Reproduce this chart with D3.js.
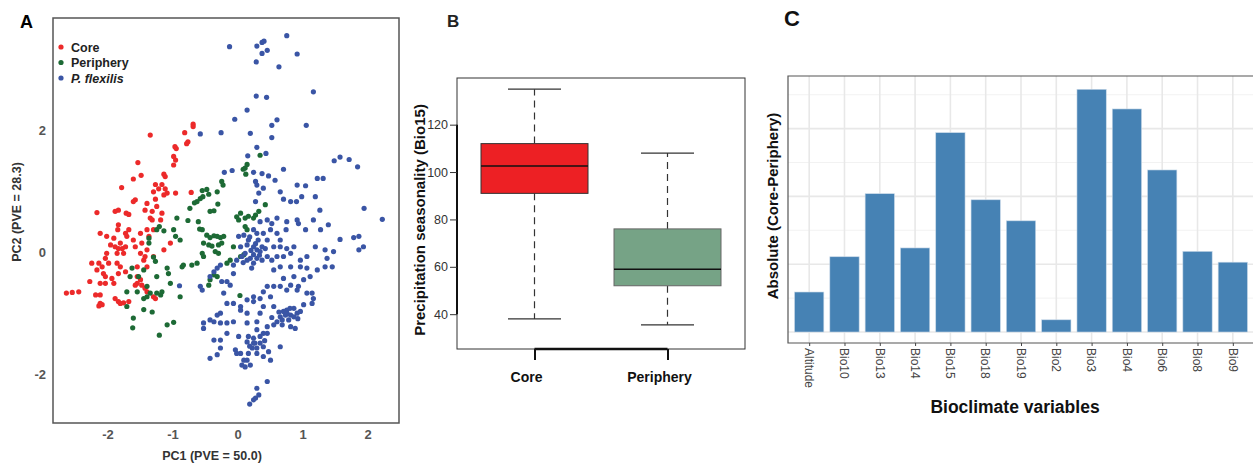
<!DOCTYPE html>
<html>
<head>
<meta charset="utf-8">
<title>Core vs Periphery</title>
<script src="https://d3js.org/d3.v7.min.js" charset="utf-8"></script>
<style>
body { margin: 0; background: #fff; font-family: "Liberation Sans", Arial, sans-serif; }
svg text { font-family: "Liberation Sans", Arial, sans-serif; }
</style>
</head>
<body>
<script>
// ---- panel A: PCA scores (PC1, PC2) ----
var corePoints = [
[-0.69,2.09],[-0.69,2.05],[-0.82,1.95],[-1.35,1.91],[-0.77,1.80],[-0.79,1.77],[-0.97,1.72],[-0.95,1.69],
[-0.99,1.56],[-0.96,1.50],[-0.99,1.42],[-1.54,1.46],[-1.14,1.27],[-1.12,1.23],[-1.49,1.25],[-1.61,1.19],
[-1.79,1.05],[-1.27,1.10],[-1.17,1.10],[-1.22,1.03],[-1.12,1.03],[-1.30,0.98],[-1.27,0.86],[-1.14,0.93],
[-1.09,0.96],[-0.72,0.97],[-0.96,0.96],[-1.58,0.85],[-1.61,0.82],[-1.84,0.68],[-1.89,0.66],[-1.72,0.63],
[-1.68,0.61],[-2.17,0.64],[-1.40,0.79],[-1.43,0.68],[-1.32,0.66],[-1.35,0.55],[-1.25,0.74],[-1.17,0.63],
[-1.19,0.52],[-2.12,0.30],[-2.02,0.25],[-1.91,0.22],[-1.84,0.44],[-1.85,0.36],[-1.73,0.30],[-1.68,0.36],
[-1.71,0.25],[-1.81,0.14],[-1.84,0.05],[-1.86,-0.03],[-1.89,0.08],[-1.73,0.08],[-1.78,0.05],[-1.76,-0.03],
[-1.96,0.11],[-2.02,-0.03],[-2.04,-0.11],[-1.99,-0.19],[-2.25,-0.19],[-2.14,-0.19],[-2.17,-0.30],[-2.09,-0.25],
[-2.07,-0.36],[-2.04,-0.41],[-2.28,-0.49],[-2.12,-0.52],[-2.04,-0.52],[-1.94,-0.44],[-1.91,-0.52],[-2.19,-0.71],
[-2.12,-0.71],[-2.64,-0.68],[-2.55,-0.67],[-2.45,-0.66],[-2.12,-0.85],[-2.09,-0.87],[-2.14,-0.89],[-1.89,-0.77],
[-1.84,-0.82],[-1.81,-0.85],[-1.76,-0.84],[-1.68,-0.82],[-1.58,-0.55],[-1.55,-0.52],[-1.48,-0.55],[-1.43,-0.60],
[-1.40,-0.66],[-1.27,-0.77],[-1.30,-0.74],[-1.61,0.19],[-1.58,0.08],[-1.50,-0.03],[-1.45,-0.14],[-1.40,-0.25],
[-1.55,-0.25],[-1.50,0.30],[-1.48,0.14],[-1.40,0.36],[-1.37,0.25],[-1.30,0.36],[-1.32,0.52],[-1.14,0.03],
[-1.04,0.14],[-1.86,-0.19],[-1.81,-0.25],[-1.84,-0.36],[-1.73,-0.33],[-1.40,0.03],[-1.43,-0.08],[-1.55,-0.41],
[-1.50,-0.46],[-1.30,-0.08]
];
var peripheryPoints = [
[0.34,1.58],[0.14,1.43],[0.11,1.37],[0.08,1.35],[0.12,1.27],[-0.25,1.15],[-0.23,1.09],[-0.55,1.00],
[-0.48,1.02],[-0.54,0.90],[-0.58,0.87],[-0.45,0.94],[-0.32,0.98],[-0.67,0.80],[-0.63,0.82],[-0.74,0.71],
[-0.43,0.66],[-0.37,0.67],[-0.31,0.78],[-0.94,0.55],[-0.77,0.51],[-0.61,0.49],[-0.59,0.37],[-0.55,0.36],
[-1.25,0.36],[-1.21,0.41],[-1.14,0.34],[-1.37,0.22],[-1.37,0.14],[-0.99,0.36],[-0.96,0.25],[-0.89,0.19],
[-0.48,0.27],[-0.43,0.23],[-0.37,0.26],[-0.32,0.25],[-0.27,0.23],[-0.22,0.25],[-0.53,0.14],[-0.45,0.11],
[-0.40,0.09],[-0.30,0.11],[-0.25,0.14],[-0.55,-0.03],[-0.53,-0.08],[-0.35,0.00],[-0.30,-0.03],[-1.30,-0.09],
[-1.27,-0.16],[-0.86,-0.25],[-0.84,-0.22],[-0.71,-0.22],[-0.63,-0.19],[-1.09,-0.27],[-1.07,-0.36],[-1.04,-0.52],
[-1.25,-0.41],[-1.45,-0.30],[-1.53,-0.41],[-1.63,-0.27],[-1.66,-0.41],[-1.40,-0.57],[-1.25,-0.68],[-1.19,-0.71],
[-1.17,-0.66],[-0.89,-0.74],[-1.71,-0.66],[-1.55,-0.66],[-1.45,-0.77],[-1.40,-0.74],[-1.35,-0.68],[-1.71,-0.90],
[-1.45,-0.95],[-1.32,-0.99],[-1.61,-1.09],[-1.62,-1.25],[-1.09,-1.20],[-0.99,-1.16],[-1.21,-1.37],[0.01,0.52],
[0.04,0.63],[0.11,0.55],[0.16,0.58],[0.24,0.55],[0.27,0.60],[0.42,0.77],[0.32,0.66],[-0.07,0.08],
[0.04,-0.08],[0.09,-0.05],[-0.12,-0.14],[-0.17,-0.19],[-0.37,-0.38],[-0.43,-0.46],[-0.45,-0.55],[-0.32,-0.41],
[0.03,-0.72],[-0.02,0.57],[0.14,0.36],[0.11,0.41]
];
var flexilisPoints = [
[0.75,3.54],[-0.13,3.36],[0.29,3.37],[0.37,3.43],[0.40,3.45],[0.45,3.30],[0.37,3.25],[0.28,3.11],
[0.91,3.24],[0.63,3.03],[1.16,2.62],[0.28,2.55],[0.44,2.53],[0.14,2.32],[-0.05,2.17],[0.60,2.16],
[0.52,2.07],[1.05,2.07],[-0.26,1.95],[-0.58,1.93],[0.19,1.94],[0.52,1.87],[0.29,1.71],[0.43,1.61],
[0.15,1.57],[1.48,1.49],[1.57,1.55],[1.71,1.51],[1.84,1.39],[0.70,1.35],[0.37,1.28],[0.24,1.30],
[-0.09,1.33],[-0.21,1.30],[0.47,1.24],[0.57,1.17],[0.27,1.15],[0.29,1.09],[0.32,0.96],[0.39,1.04],
[0.65,0.98],[0.91,1.09],[1.04,1.08],[1.22,1.20],[1.31,1.20],[0.70,0.86],[0.81,0.82],[0.90,0.82],
[0.98,0.90],[1.19,0.90],[0.27,0.82],[1.94,0.71],[2.22,0.53],[1.26,0.68],[0.91,0.52],[0.75,0.49],
[0.74,0.36],[0.93,0.46],[1.04,0.36],[1.16,0.52],[1.27,0.36],[1.39,0.44],[1.57,0.20],[1.78,0.23],
[1.86,0.25],[1.93,0.08],[1.86,0.03],[0.60,0.55],[0.52,0.46],[0.45,0.52],[0.34,0.49],[0.24,0.36],
[0.29,0.30],[0.39,0.30],[0.50,0.36],[0.60,0.30],[0.65,0.19],[0.45,0.19],[0.55,0.08],[0.65,0.08],
[0.75,0.05],[0.86,0.08],[0.01,0.25],[0.09,0.27],[0.16,0.19],[0.14,0.11],[0.24,0.08],[0.29,0.03],
[0.34,0.00],[0.42,0.05],[0.24,-0.05],[0.29,-0.11],[0.37,-0.14],[0.19,-0.11],[0.11,-0.03],[0.04,0.08],
[0.14,-0.14],[0.24,-0.19],[0.45,-0.08],[0.52,-0.14],[0.60,-0.08],[0.70,-0.08],[0.81,-0.03],[0.96,-0.14],
[1.06,-0.08],[1.19,0.08],[1.34,0.03],[1.37,-0.11],[1.47,0.00],[1.45,-0.25],[1.34,-0.25],[1.22,-0.30],
[1.06,-0.27],[0.96,-0.25],[0.81,-0.25],[0.65,-0.25],[0.55,-0.30],[0.70,-0.44],[0.86,-0.41],[0.81,-0.55],
[0.93,-0.57],[1.01,-0.46],[1.11,-0.41],[1.14,-0.68],[1.06,-0.68],[0.91,-0.63],[0.75,-0.63],[0.65,-0.57],
[0.55,-0.57],[0.45,-0.57],[0.39,-0.66],[0.50,-0.74],[0.34,-0.77],[0.24,-0.74],[0.24,-0.82],[0.14,-0.79],
[0.04,-0.90],[-0.07,-0.85],[-0.17,-0.85],[-0.22,-0.68],[-0.12,-0.55],[-0.25,-0.49],[-0.17,-0.49],[-0.58,-0.57],
[-0.55,-0.63],[-0.07,-0.36],[-0.37,-0.33],[-0.43,-0.41],[-0.32,-0.27],[-0.27,-0.22],[-0.07,-0.22],[-0.02,-0.14],
[0.06,-0.08],[-0.90,-0.56],[0.73,-1.04],[0.81,-1.04],[0.86,-1.07],[0.68,-1.12],[0.78,-1.12],[0.91,-1.01],
[0.96,-0.98],[1.01,-0.87],[1.14,-0.85],[1.16,-0.77],[0.86,-0.93],[0.75,-0.96],[0.70,-0.98],[0.65,-1.07],
[0.60,-1.15],[0.68,-1.20],[0.81,-1.23],[0.88,-1.26],[0.55,-1.20],[0.45,-1.23],[0.45,-1.34],[0.39,-1.34],
[0.34,-1.39],[0.29,-1.28],[0.24,-1.42],[0.16,-1.39],[0.14,-1.48],[0.24,-1.50],[0.34,-1.50],[0.39,-1.56],
[0.29,-1.58],[0.22,-1.58],[0.16,-1.67],[0.29,-1.67],[0.47,-1.64],[0.50,-1.78],[0.65,-1.56],[0.39,-1.72],
[0.14,-1.78],[0.09,-1.78],[0.06,-1.86],[0.11,-1.89],[0.19,-1.86],[0.04,-1.67],[-0.04,-1.61],[-0.02,-1.67],
[0.01,-1.39],[0.14,-1.17],[0.29,-1.15],[0.34,-1.01],[0.55,-0.90],[0.39,-0.90],[0.14,-1.01],[0.04,-0.96],
[-0.07,-1.15],[-0.17,-1.17],[-0.27,-1.17],[-0.37,-1.15],[-0.43,-1.12],[-0.53,-1.17],[-0.53,-1.26],[-0.32,-1.04],
[-0.27,-1.01],[-0.17,-1.34],[-0.37,-1.45],[-0.43,-1.75],[-0.27,-1.45],[-0.27,-1.58],[-0.32,-1.69],[0.45,-2.13],
[0.29,-2.24],[0.32,-2.35],[0.27,-2.40],[0.24,-2.43],[0.18,-2.50],
[0.20,0.02],[0.27,0.13],[0.33,-0.06],[0.18,0.24],[0.31,0.19],[0.08,-0.18],[0.37,0.08],[0.21,-0.27],
[0.80,-0.93],[0.76,-1.02],[0.92,-1.10],[0.63,-0.99],[0.52,-1.08],[0.26,-1.50],[0.41,-1.46],[0.18,-1.55]
];
var pcaGroups = ["Core", "Periphery", "P. flexilis"];
var pcaColors = ["#ec2a2a", "#1d6a35", "#3a55a5"];
var pcaXTicks = [-2, -1, 0, 1, 2];
var pcaYTicks = [-2, 0, 2];

// ---- panel B: Bio15 box plot ----
var boxGroups = ["Core", "Periphery"];
var boxLow = [38, 35.5];
var boxQ1 = [91, 52];
var boxMedian = [102.5, 59];
var boxQ3 = [112, 76];
var boxHigh = [135, 108];
var boxYTicks = [40, 60, 80, 100, 120];

// ---- panel C: absolute differences ----
var bioVars = ["Altitude","Bio10","Bio13","Bio14","Bio15","Bio18","Bio19","Bio2","Bio3","Bio4","Bio6","Bio8","Bio9"];
var bioDiff = [0.59, 1.11, 2.04, 1.24, 2.94, 1.95, 1.64, 0.18, 3.58, 3.29, 2.39, 1.19, 1.03];

var svg = d3.select("body").append("svg").attr("width", 1253).attr("height", 466);

// ================= A =================
var ax = d3.scaleLinear().domain([-2.846, 2.477]).range([53, 399]);
var ay = d3.scaleLinear().domain([-2.81, 3.83]).range([423, 18]);
var gA = svg.append("g");
gA.append("text").attr("x", 20).attr("y", 28).style("font-size", "18px").style("font-weight", "bold").text("A");

var allPts = [];
[corePoints, peripheryPoints, flexilisPoints].forEach(function(arr, i) {
	arr.forEach(function(p) { allPts.push({x: p[0], y: p[1], g: i}); });
});
gA.selectAll(".pt").data(allPts).enter().append("circle")
	.attr("class", "pt")
	.attr("cx", function(d) { return ax(d.x); })
	.attr("cy", function(d) { return ay(d.y); })
	.attr("r", 2.6)
	.attr("fill", function(d) { return pcaColors[d.g]; });

gA.append("rect").attr("x", 53).attr("y", 18).attr("width", 346).attr("height", 405)
	.attr("fill", "none").attr("stroke", "#555").attr("stroke-width", 1.5);

gA.selectAll(".xt").data(pcaXTicks).enter().append("text")
	.attr("x", function(d) { return ax(d); }).attr("y", 439)
	.attr("text-anchor", "middle").style("font-size", "13px").style("font-weight", "bold").attr("fill", "#555")
	.text(function(d) { return d; });
gA.selectAll(".yt").data(pcaYTicks).enter().append("text")
	.attr("x", 46).attr("y", function(d) { return ay(d) + 5; })
	.attr("text-anchor", "end").style("font-size", "13px").style("font-weight", "bold").attr("fill", "#555")
	.text(function(d) { return d; });
gA.append("text").attr("x", 212).attr("y", 460).attr("text-anchor", "middle")
	.style("font-size", "12.5px").style("font-weight", "bold").attr("fill", "#333").text("PC1 (PVE = 50.0)");
gA.append("text").attr("transform", "translate(21,212) rotate(-90)").attr("text-anchor", "middle")
	.style("font-size", "12.5px").style("font-weight", "bold").attr("fill", "#333").text("PC2 (PVE = 28.3)");

var leg = gA.selectAll(".leg").data(pcaGroups).enter().append("g")
	.attr("transform", function(d, i) { return "translate(61," + (47 + i * 15.5) + ")"; });
leg.append("circle").attr("r", 2.6).attr("fill", function(d, i) { return pcaColors[i]; });
leg.append("text").attr("x", 10).attr("y", 4.5).style("font-size", "12.5px").style("font-weight", "bold")
	.style("font-style", function(d, i) { return i == 2 ? "italic" : "normal"; }).attr("fill", "#222")
	.text(function(d) { return d; });

// ================= B =================
var gB = svg.append("g");
var bx = d3.scalePoint().domain(boxGroups).range([534.5, 667.5]);
var by = d3.scaleLinear().domain([25.3, 139.7]).range([349, 78]);
var boxW = 107, capW = 53;
gB.append("text").attr("x", 447).attr("y", 27).style("font-size", "17px").style("font-weight", "bold").attr("fill", "#222").text("B");

boxGroups.forEach(function(g, i) {
	var cx = bx(g);
	gB.append("line").attr("x1", cx).attr("x2", cx).attr("y1", by(boxQ3[i])).attr("y2", by(boxHigh[i]))
		.attr("stroke", "#333").attr("stroke-width", 1.2).attr("stroke-dasharray", "7,5");
	gB.append("line").attr("x1", cx).attr("x2", cx).attr("y1", by(boxQ1[i])).attr("y2", by(boxLow[i]))
		.attr("stroke", "#333").attr("stroke-width", 1.2).attr("stroke-dasharray", "7,5");
	[boxLow[i], boxHigh[i]].forEach(function(v) {
		gB.append("line").attr("x1", cx - capW / 2).attr("x2", cx + capW / 2).attr("y1", by(v)).attr("y2", by(v))
			.attr("stroke", "#333").attr("stroke-width", 1.2);
	});
	gB.append("rect").attr("x", cx - boxW / 2).attr("width", boxW)
		.attr("y", by(boxQ3[i])).attr("height", by(boxQ1[i]) - by(boxQ3[i]))
		.attr("fill", i == 0 ? "#ed2024" : "#76a386").attr("stroke", i == 0 ? "#333" : "#666").attr("stroke-width", 1);
	gB.append("line").attr("x1", cx - boxW / 2).attr("x2", cx + boxW / 2).attr("y1", by(boxMedian[i])).attr("y2", by(boxMedian[i]))
		.attr("stroke", "#111").attr("stroke-width", 1.5);
});
gB.append("rect").attr("x", 457).attr("y", 78).attr("width", 288).attr("height", 271)
	.attr("fill", "none").attr("stroke", "#333").attr("stroke-width", 1);

var yAxB = gB.append("g").attr("transform", "translate(457,0)")
	.call(d3.axisLeft(by).tickValues(boxYTicks).tickSize(7).tickPadding(2));
yAxB.select(".domain").attr("stroke", "#111").attr("stroke-width", 2)
	.attr("d", "M0," + by(120) + "V" + by(40));
yAxB.selectAll("line").attr("stroke", "#333");
yAxB.selectAll("text").style("font-size", "12.5px").attr("fill", "#333");

var xAxB = gB.append("g").attr("transform", "translate(0,349)")
	.call(d3.axisBottom(bx).tickSize(11).tickFormat(""));
xAxB.select(".domain").attr("stroke", "#111").attr("stroke-width", 2.5)
	.attr("d", "M" + bx("Core") + ",0H" + bx("Periphery"));
xAxB.selectAll("line").attr("stroke", "#111").attr("stroke-width", 2);
gB.selectAll(".bxl").data(boxGroups).enter().append("text")
	.attr("x", function(d) { return bx(d) - 8; }).attr("y", 382).attr("text-anchor", "middle")
	.style("font-size", "14px").style("font-weight", "bold").attr("fill", "#111").text(function(d) { return d; });
gB.append("text").attr("transform", "translate(425,220) rotate(-90)").attr("text-anchor", "middle")
	.style("font-size", "15px").style("font-weight", "bold").attr("fill", "#111").text("Precipitation seasonality (Bio15)");

// ================= C =================
var gC = svg.append("g");
var cx = d3.scalePoint().domain(bioVars).range([788, 1254]).padding(0.6);
var cy = d3.scaleLinear().domain([-0.162, 3.776]).range([343, 76]);
var barW = cx.step() * 0.83;
gC.append("text").attr("x", 784).attr("y", 26).style("font-size", "22px").style("font-weight", "bold").attr("fill", "#111").text("C");

gC.append("rect").attr("x", 788).attr("y", 76).attr("width", 470).attr("height", 267).attr("fill", "#fff");
var minorY = [0.5, 1.5, 2.5, 3.5], majorY = [0, 1, 2, 3];
gC.selectAll(".mny").data(minorY).enter().append("line")
	.attr("x1", 788).attr("x2", 1253).attr("y1", function(d) { return cy(d); }).attr("y2", function(d) { return cy(d); })
	.attr("stroke", "#efefef").attr("stroke-width", 0.8);
gC.selectAll(".mjy").data(majorY).enter().append("line")
	.attr("x1", 788).attr("x2", 1253).attr("y1", function(d) { return cy(d); }).attr("y2", function(d) { return cy(d); })
	.attr("stroke", "#e8e8e8").attr("stroke-width", 1.6);
gC.selectAll(".mjx").data(bioVars).enter().append("line")
	.attr("x1", function(d) { return cx(d); }).attr("x2", function(d) { return cx(d); }).attr("y1", 76).attr("y2", 343)
	.attr("stroke", "#e8e8e8").attr("stroke-width", 1.6);

gC.selectAll(".bar").data(bioVars).enter().append("rect")
	.attr("class", "bar")
	.attr("x", function(d) { return cx(d) - barW / 2; })
	.attr("width", barW)
	.attr("y", function(d, i) { return cy(bioDiff[i]); })
	.attr("height", function(d, i) { return cy(0) - cy(bioDiff[i]); })
	.attr("fill", "#4682b4").attr("stroke", "#c9d9e8").attr("stroke-width", 0.6);

gC.append("path").attr("d", "M1254,76H788V343H1254").attr("fill", "none").attr("stroke", "#555").attr("stroke-width", 1.2);

var xAxC = gC.append("g").attr("transform", "translate(0,343)").call(d3.axisBottom(cx).tickSize(3).tickFormat(""));
xAxC.select(".domain").remove();
xAxC.selectAll("line").attr("stroke", "#444");
gC.selectAll(".cxl").data(bioVars).enter().append("text")
	.attr("transform", function(d) { return "translate(" + cx(d) + ",348) rotate(90)"; })
	.attr("dy", "0.35em").attr("text-anchor", "start")
	.style("font-size", "12px").attr("fill", "#444").text(function(d) { return d; });
gC.append("text").attr("x", 1015).attr("y", 413).attr("text-anchor", "middle")
	.style("font-size", "17.5px").style("font-weight", "bold").attr("fill", "#111").text("Bioclimate variables");
gC.append("text").attr("transform", "translate(778,206) rotate(-90)").attr("text-anchor", "middle")
	.style("font-size", "15px").style("font-weight", "bold").attr("fill", "#111").text("Absolute (Core-Periphery)");
</script>
</body>
</html>
